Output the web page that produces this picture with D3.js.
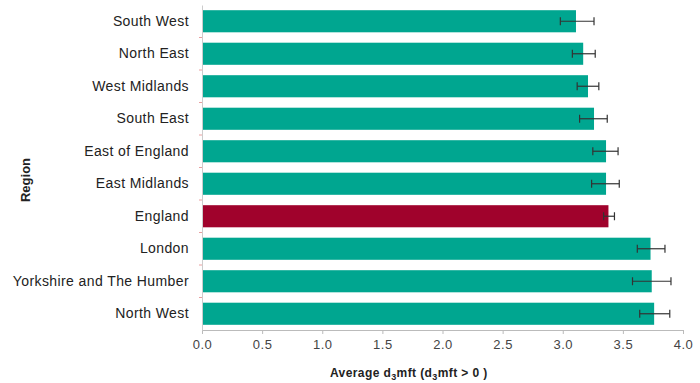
<!DOCTYPE html>
<html><head><meta charset="utf-8">
<script src="https://cdn.jsdelivr.net/npm/d3@7/dist/d3.min.js"></script>
<style>body{margin:0;background:#fff;} text{font-family:Arial,"Liberation Sans",sans-serif;}</style>
</head><body>
<svg id="c" width="700" height="383"></svg>
<script>
const regions = ["South West","North East","West Midlands","South East","East of England","East Midlands","England","London","Yorkshire and The Humber","North West"];
const values  = [3.11,3.17,3.21,3.26,3.36,3.36,3.38,3.73,3.74,3.76];
const lowerCI = [2.98,3.08,3.12,3.14,3.25,3.24,3.34,3.62,3.58,3.64];
const upperCI = [3.26,3.27,3.30,3.37,3.46,3.47,3.43,3.85,3.90,3.89];
const xTicks = [0,0.5,1,1.5,2,2.5,3,3.5,4];

const svg = d3.select("#c");
const m = {l:202, r:17, t:5, b:53};
const W = 700, H = 383;
const x = d3.scaleLinear().domain([0,4]).range([m.l, W-m.r]);
const y = d3.scaleBand().domain(regions).range([m.t, H-m.b]).paddingInner(0.32).paddingOuter(0.16);

// bars
svg.append("g").selectAll("rect").data(regions).join("rect")
  .attr("x", x(0)+1)
  .attr("y", d=>y(d))
  .attr("width", (d,i)=>x(values[i])-x(0)-1)
  .attr("height", y.bandwidth())
  .attr("fill", d=> d==="England" ? "#a0022c" : "#00a690");

// error bars
const eb = svg.append("g").attr("stroke","#333").attr("stroke-width",1.2);
regions.forEach((d,i)=>{
  const cy = y(d)+y.bandwidth()/2;
  eb.append("line").attr("x1",x(lowerCI[i])).attr("x2",x(upperCI[i])).attr("y1",cy).attr("y2",cy);
  [lowerCI[i],upperCI[i]].forEach(v=>{
    eb.append("line").attr("x1",x(v)).attr("x2",x(v)).attr("y1",cy-4).attr("y2",cy+4);
  });
});

// x axis
const xa = svg.append("g").attr("transform",`translate(0,${H-m.b})`)
  .call(d3.axisBottom(x).tickValues(xTicks).tickFormat(d3.format(".1f")).tickSize(4).tickPadding(6));
xa.select(".domain").attr("stroke","#bbb");
xa.selectAll(".tick line").attr("stroke","#bbb");
xa.selectAll("text").attr("font-size","13px").attr("letter-spacing","0.5px").attr("fill","#444");

// y axis
const ya = svg.append("g").attr("transform",`translate(${m.l},0)`)
  .call(d3.axisLeft(y).tickSize(0).tickPadding(13));
ya.select(".domain").attr("stroke","#ccc");
ya.selectAll("text").attr("font-size","14px").attr("letter-spacing","0.4px").attr("fill","#222");
// small separators between categories
const sep = svg.append("g").attr("stroke","#e8a0a0");
regions.slice(1).forEach(d=>{
  const yy = y(d) - y.step()*y.paddingInner()/2;
  sep.append("line").attr("x1",m.l-3).attr("x2",m.l).attr("y1",yy).attr("y2",yy);
});

// axis titles
svg.append("text").attr("transform","translate(25,180) rotate(-90)")
  .attr("text-anchor","middle").attr("dy","0.35em").attr("font-size","13px").attr("font-weight","bold").attr("fill","#222").text("Region");

const t = svg.append("text").attr("x",330).attr("y",377).attr("text-anchor","start")
  .attr("font-size","12px").attr("letter-spacing","0.4px").attr("font-weight","bold").attr("fill","#222");
t.append("tspan").text("Average d");
t.append("tspan").attr("font-size","9px").attr("dy",3).text("3");
t.append("tspan").attr("dy",-3).text("mft (d");
t.append("tspan").attr("font-size","9px").attr("dy",3).text("3");
t.append("tspan").attr("dy",-3).text("mft > 0 )");
</script>
</body></html>
